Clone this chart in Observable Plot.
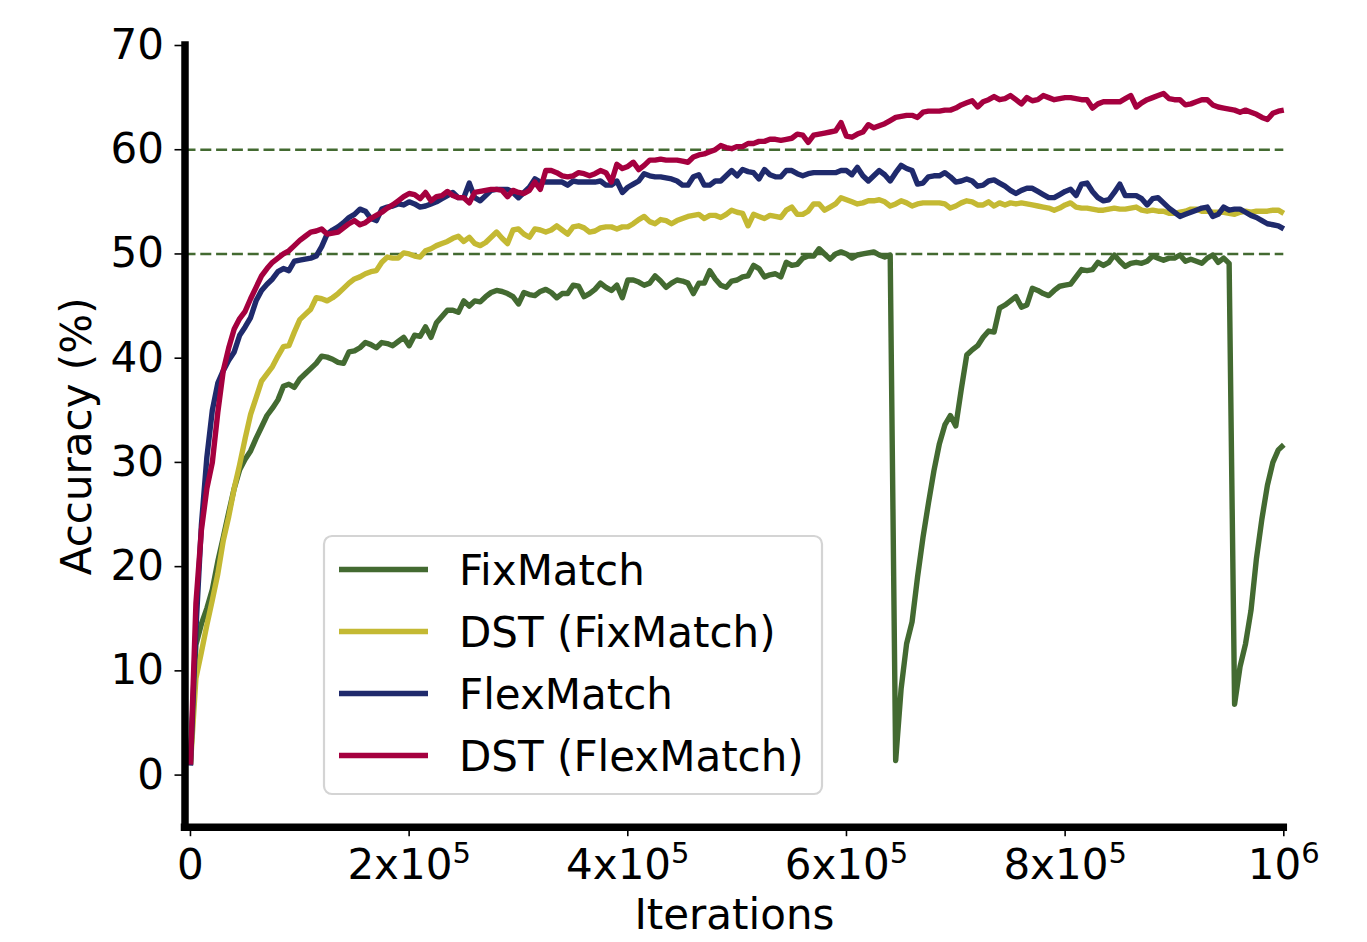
<!DOCTYPE html>
<html>
<head>
<meta charset="utf-8">
<script src="https://cdn.jsdelivr.net/npm/d3@7"></script>
<script src="https://cdn.jsdelivr.net/npm/@observablehq/plot@0.6"></script>
<style>
  html, body { margin: 0; padding: 0; background: #fff; }
  #wrap { position: relative; width: 1367px; height: 942px; font-family: "DejaVu Sans", sans-serif; }
  #wrap svg { display: block; }
  #legend { position: absolute; left: 0; top: 0; }
</style>
</head>
<body>
<div id="wrap"></div>
<script>
// ---- data ----
const seriesNames = ["FixMatch", "DST (FixMatch)", "FlexMatch", "DST (FlexMatch)"];
const seriesColors = ["#436a31", "#c4b933", "#1f2a6c", "#a5003f"];
const iterStep = 5000;
const iters = d3.range(0, 1000000 + 1, iterStep); // 0 ... 1e6

const fixMatch = [
  1.0,12.5,14.5,16.0,17.8,20.5,22.8,25.2,27.5,29.3,
  30.3,31.1,32.3,33.4,34.5,35.2,36.0,37.3,37.5,37.2,
  38.0,38.5,39.0,39.5,40.2,40.1,39.9,39.6,39.5,40.6,
  40.7,41.0,41.5,41.3,41.0,41.5,41.4,41.2,41.6,42.0,
  41.2,42.2,42.1,43.0,42.0,43.4,44.0,44.6,44.6,44.4,
  45.5,45.0,45.5,45.4,45.9,46.3,46.5,46.4,46.2,45.9,
  45.2,46.3,46.1,46.0,46.4,46.6,46.3,45.8,46.2,46.2,
  47.0,46.9,45.9,46.2,46.6,47.2,46.8,46.5,47.0,45.8,
  47.5,47.5,47.3,47.0,47.2,47.9,47.4,46.8,47.2,47.5,
  47.4,47.2,46.2,47.2,47.2,48.4,47.6,47.0,46.8,47.4,
  47.5,47.8,47.9,48.9,48.6,47.8,48.0,48.1,47.8,49.2,
  48.9,49.0,49.6,49.8,49.8,50.5,50.0,49.5,50.0,50.2,
  50.0,49.6,49.9,50.0,50.1,50.2,49.9,49.7,49.9,1.4,
  8.3,12.6,14.7,19.0,22.8,26.1,29.2,31.8,33.6,34.5,
  33.5,37.0,40.3,40.8,41.2,42.0,42.6,42.5,44.8,45.1,
  45.5,45.9,44.9,45.1,46.7,46.5,46.2,46.0,46.5,46.9,
  47.0,47.1,47.8,48.5,48.4,48.5,49.2,48.9,49.2,49.9,
  49.3,48.8,49.1,49.2,49.1,49.3,49.8,49.6,49.4,49.6,
  49.6,49.9,49.3,49.5,49.3,49.1,49.6,49.9,49.2,49.6,
  49.1,6.8,10.4,12.6,15.8,20.8,24.6,27.8,30.0,31.2,
  31.7
];

const dstFixMatch = [
  1.0,9.3,11.8,14.4,16.8,19.3,22.5,24.8,27.5,29.8,
  32.3,34.6,36.2,37.8,38.5,39.2,40.2,41.1,41.2,42.5,
  43.7,44.2,44.7,45.8,45.7,45.5,45.8,46.2,46.7,47.2,
  47.6,47.8,48.1,48.3,48.4,49.2,49.7,49.6,49.6,50.1,
  50.0,49.8,49.7,50.3,50.5,50.8,51.0,51.2,51.5,51.7,
  51.2,51.6,51.0,50.8,51.1,51.6,52.1,51.5,51.0,52.3,
  52.4,51.9,51.6,52.4,52.3,52.1,52.3,52.7,52.3,51.9,
  52.6,52.7,52.5,52.1,52.2,52.5,52.6,52.6,52.4,52.6,
  52.6,52.9,53.3,53.6,53.1,52.9,53.3,53.2,52.9,53.2,
  53.4,53.6,53.7,53.8,53.4,53.7,53.7,53.5,53.8,54.2,
  54.0,53.9,52.7,53.8,53.6,53.4,53.7,53.6,53.5,54.2,
  54.5,53.8,53.8,54.1,54.8,54.8,54.2,54.5,54.8,55.4,
  55.2,55.0,54.8,54.9,55.1,55.1,55.2,55.0,54.6,54.8,
  55.1,54.9,54.6,54.8,54.9,54.9,54.9,54.9,54.8,54.4,
  54.6,54.9,55.1,55.0,54.7,54.7,55.0,54.6,54.9,54.7,
  54.9,54.8,54.9,54.8,54.7,54.6,54.5,54.4,54.2,54.4,
  54.7,54.9,54.5,54.4,54.4,54.3,54.2,54.2,54.3,54.4,
  54.3,54.3,54.4,54.5,54.2,54.1,54.2,54.1,54.1,53.9,
  53.9,54.0,54.1,54.3,54.3,54.1,54.1,54.0,54.0,54.0,
  53.9,53.8,54.0,54.1,54.0,54.1,54.1,54.1,54.2,54.2,
  53.9
];

const flexMatch = [
  0.9,14.0,24.0,30.5,35.0,37.6,38.8,39.8,40.6,42.2,
  43.0,43.9,45.5,46.5,47.1,47.6,48.3,48.6,48.4,49.3,
  49.4,49.5,49.6,49.8,50.7,51.9,52.3,52.6,53.0,53.5,
  53.8,54.3,54.1,53.4,53.2,54.3,54.5,54.6,54.8,54.7,
  55.0,54.8,54.5,54.6,54.8,55.0,55.3,55.6,55.9,55.4,
  55.4,56.8,55.4,55.1,55.6,56.1,56.2,56.2,56.2,55.9,
  55.4,55.9,56.4,57.2,56.9,56.9,56.9,56.9,56.9,56.6,
  57.0,56.9,56.9,56.9,56.9,57.0,56.6,56.6,57.0,55.9,
  56.4,56.7,57.0,57.7,57.5,57.4,57.4,57.3,57.2,57.0,
  56.6,56.6,57.4,57.6,56.6,56.6,57.0,57.0,57.5,58.0,
  57.5,58.1,57.9,57.8,57.2,58.1,57.6,57.4,57.4,58.0,
  58.0,57.7,57.5,57.7,57.8,57.8,57.8,57.8,57.8,58.0,
  58.0,57.6,58.3,57.5,57.0,57.5,58.0,57.6,57.0,57.8,
  58.5,58.2,58.0,56.7,56.8,57.4,57.5,57.5,57.8,57.4,
  56.9,57.0,57.2,57.0,56.5,56.6,57.0,57.1,56.8,56.5,
  56.1,55.8,56.1,56.3,56.3,56.0,55.7,55.4,55.4,55.7,
  56.0,56.2,55.6,56.7,56.8,56.0,55.4,55.1,55.2,55.9,
  56.7,55.6,55.6,55.6,55.3,54.7,55.3,55.4,54.9,54.4,
  54.0,53.6,53.8,54.0,54.2,54.4,54.5,53.6,53.8,54.5,
  54.2,54.3,54.3,54.0,53.7,53.5,53.2,52.9,52.8,52.7,
  52.4
];

const dstFlexMatch = [
  1.0,16.5,23.5,27.5,30.0,34.8,38.8,41.0,42.8,43.8,
  44.5,45.7,46.8,47.9,48.6,49.2,49.6,50.0,50.3,50.8,
  51.3,51.7,52.1,52.2,52.4,51.9,52.0,52.1,52.5,52.9,
  53.2,52.8,53.0,53.4,53.7,54.0,54.4,54.7,55.1,55.5,
  55.8,55.7,55.3,55.9,55.1,55.5,55.6,56.0,55.6,55.4,
  55.4,54.9,55.9,56.0,56.1,56.2,56.2,56.1,55.5,56.1,
  55.9,55.8,56.1,56.9,56.2,58.0,58.0,57.8,57.5,57.4,
  57.5,57.8,57.7,57.5,57.7,58.0,57.8,56.9,58.6,58.2,
  58.4,58.8,58.1,58.5,59.0,59.0,59.1,59.0,59.0,59.0,
  58.9,58.8,59.3,59.5,59.6,59.8,60.0,60.4,60.2,60.1,
  60.3,60.3,60.6,60.6,60.8,60.8,61.0,61.0,60.9,61.0,
  61.1,61.5,61.4,60.7,61.4,61.5,61.6,61.7,61.8,62.6,
  61.3,61.2,61.5,61.7,62.4,62.1,62.3,62.5,62.8,63.1,
  63.2,63.3,63.3,63.1,63.6,63.7,63.7,63.7,63.8,63.8,
  64.0,64.3,64.5,64.7,64.1,64.6,64.8,65.1,64.8,64.9,
  65.2,64.8,64.4,65.0,64.7,64.8,65.2,65.0,64.8,64.9,
  65.0,65.0,64.9,64.8,64.8,64.0,64.4,64.6,64.6,64.6,
  64.6,64.9,65.2,64.1,64.5,64.8,65.0,65.2,65.4,64.9,
  64.8,64.8,64.3,64.4,64.6,64.8,64.8,64.3,64.1,64.0,
  63.9,63.8,63.6,63.8,63.6,63.4,63.1,62.9,63.5,63.7,
  63.8
];

const seriesValues = [fixMatch, dstFixMatch, flexMatch, dstFlexMatch];
const refLines = [50, 60];
const yTicks = [0, 10, 20, 30, 40, 50, 60, 70];
const xTicks = [0, 200000, 400000, 600000, 800000, 1000000];
const xTickBases = ["0", "2x10", "4x10", "6x10", "8x10", "10"];
const xTickExps = ["", "5", "5", "5", "5", "6"];
const xDomain = [-5000, 1000000];
const yDomain = [-5, 70];

// ---- build table ----
const rows = [];
seriesNames.forEach((name, s) => {
  seriesValues[s].forEach((v, i) => rows.push({series: name, it: iters[i], acc: v}));
});

const FONT = 42;
const chart = Plot.plot({
  width: 1367,
  height: 942,
  marginLeft: 184.5,
  marginRight: 83.7,
  marginTop: 45,
  marginBottom: 115.3,
  style: {fontFamily: '"DejaVu Sans", sans-serif', color: "#000", background: "#fff"},
  x: {domain: xDomain, type: "linear"},
  y: {domain: yDomain},
  color: {domain: seriesNames, range: seriesColors},
  marks: [
    Plot.ruleY(refLines, {stroke: seriesColors[0], strokeWidth: 2.5, strokeDasharray: "11,4.8"}),
    Plot.line(rows, {x: "it", y: "acc", z: "series", stroke: "series", strokeWidth: 5.4, strokeLinejoin: "round", strokeLinecap: "butt"}),
    Plot.ruleX([xDomain[0]], {y1: yDomain[0], y2: yDomain[1], stroke: "#000", strokeWidth: 7.5, strokeLinecap: "square"}),
    Plot.ruleY([yDomain[0]], {x1: xDomain[0], x2: xDomain[1], stroke: "#000", strokeWidth: 7.5, strokeLinecap: "square"}),
    Plot.axisY({ticks: yTicks, tickSize: 10, tickPadding: 11, fontSize: FONT, strokeWidth: 1.6, label: null, tickFormat: d => String(d)}),
    Plot.axisX({ticks: xTicks, tickSize: 9.5, tickPadding: 12, fontSize: FONT, strokeWidth: 1.6, label: null,
                tickFormat: d => {
                  const k = xTicks.indexOf(d);
                  return xTickExps[k] ? xTickBases[k] + "^" + xTickExps[k] : xTickBases[k];
                }}),
    Plot.text(["Iterations"], {frameAnchor: "bottom", dy: 102, fontSize: FONT, fill: "#000"}),
    Plot.text(["Accuracy (%)"], {frameAnchor: "left", textAnchor: "middle", dx: -107, rotate: -90, fontSize: FONT, fill: "#000"})
  ]
});

// render superscripts of x tick labels as real tspans
d3.select(chart).selectAll("text").each(function() {
  const t = this.textContent;
  if (t.includes("^") && this.childElementCount === 0) {
    const [base, exp] = t.split("^");
    const sel = d3.select(this);
    sel.text(null);
    sel.append("tspan").text(base);
    sel.append("tspan").attr("font-size", Math.round(FONT * 0.7)).attr("dy", "-0.52em").text(exp);
  }
});

const wrap = document.getElementById("wrap");
wrap.appendChild(chart);

// ---- legend (overlay) ----
const leg = d3.select(wrap).append("svg")
  .attr("id", "legend")
  .attr("width", 1367).attr("height", 942)
  .style("pointer-events", "none");
leg.append("rect")
  .attr("x", 324).attr("y", 536).attr("width", 498).attr("height", 258)
  .attr("rx", 8).attr("ry", 8)
  .attr("fill", "rgba(255,255,255,0.8)").attr("stroke", "#d4d4d4").attr("stroke-width", 2.2);
seriesNames.forEach((name, i) => {
  const cy = 569.5 + i * 62;
  leg.append("line").attr("x1", 339).attr("x2", 428).attr("y1", cy).attr("y2", cy)
    .attr("stroke", seriesColors[i]).attr("stroke-width", 5.4);
  leg.append("text").attr("x", 459).attr("y", cy + 15)
    .attr("font-family", '"DejaVu Sans", sans-serif').attr("font-size", FONT)
    .attr("fill", "#000").text(name);
});
</script>
</body>
</html>
